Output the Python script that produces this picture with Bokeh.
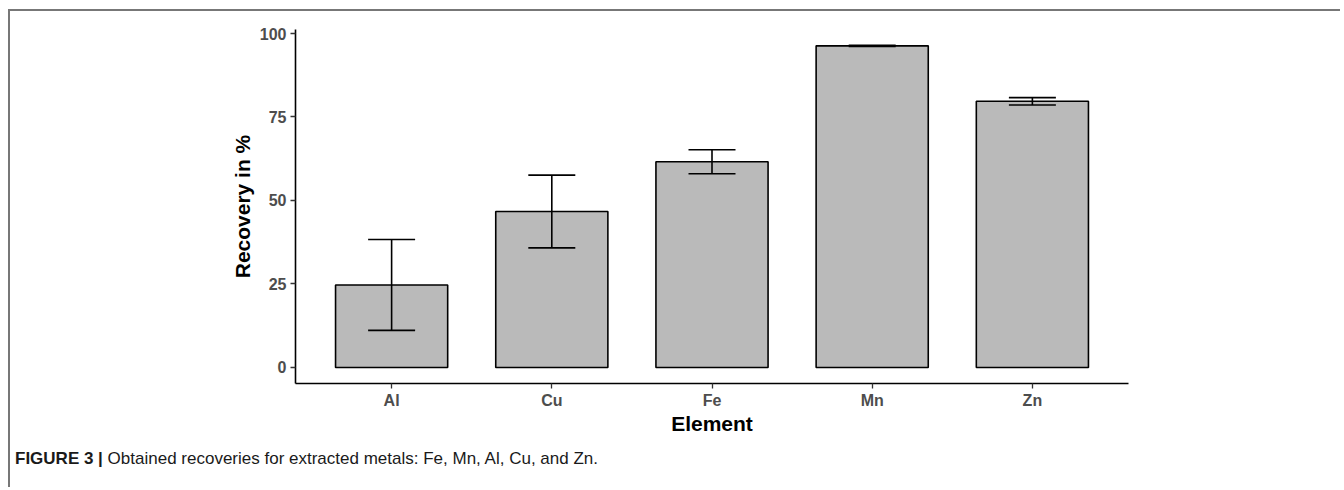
from bokeh.plotting import figure
from bokeh.models import (ColumnDataSource, Range1d, FixedTicker, Whisker, TeeHead, Div)
from bokeh.layouts import column
from bokeh.embed import file_html
from bokeh.resources import INLINE

# ---- data ----
elements = ["Al", "Cu", "Fe", "Mn", "Zn"]
positions = [1, 2, 3, 4, 5]
recovery_mean = [24.7, 46.7, 61.6, 96.3, 79.7]
recovery_sd = [13.6, 10.9, 3.6, 0.2, 1.1]
y_ticks = [0, 25, 50, 75, 100]
caption_bold = "FIGURE 3 |"
caption_text = "Obtained recoveries for extracted metals: Fe, Mn, Al, Cu, and Zn."

upper = [m + s for m, s in zip(recovery_mean, recovery_sd)]
lower = [m - s for m, s in zip(recovery_mean, recovery_sd)]
src = ColumnDataSource(dict(x=positions, top=recovery_mean, upper=upper, lower=lower))

FONT = "Liberation Sans"

p = figure(width=1326, height=428, output_backend="svg", toolbar_location=None,
           x_range=Range1d(0.4, 5.6), y_range=Range1d(-4.8, 101.2),
           min_border_left=285, min_border_right=208, min_border_top=18, min_border_bottom=56)
p.outline_line_color = None
p.xgrid.grid_line_color = None
p.ygrid.grid_line_color = None

p.vbar(x="x", top="top", bottom=0, width=0.7, source=src,
       fill_color="#bababa", line_color="black", line_width=1.6)

w = Whisker(base="x", upper="upper", lower="lower", source=src, level="overlay",
            line_color="black", line_width=1.6,
            upper_head=TeeHead(size=47, line_color="black", line_width=1.6),
            lower_head=TeeHead(size=47, line_color="black", line_width=1.6))
p.add_layout(w)

# axes
for ax in (p.xaxis[0], p.yaxis[0]):
    ax.axis_line_color = "black"
    ax.axis_line_width = 1.6
    ax.major_tick_line_color = "#333333"
    ax.major_tick_line_width = 1.3
    ax.major_tick_out = 5
    ax.major_tick_in = 0
    ax.minor_tick_line_color = None
    ax.major_label_text_font = FONT
    ax.major_label_text_font_style = "bold"
    ax.major_label_text_font_size = "16px"
    ax.major_label_text_color = "#4d4d4d"
    ax.axis_label_text_font = FONT
    ax.axis_label_text_font_style = "bold"
    ax.axis_label_text_font_size = "21px"
    ax.axis_label_text_color = "black"

p.xaxis.ticker = FixedTicker(ticks=positions)
p.xaxis.major_label_overrides = {pos: name for pos, name in zip(positions, elements)}
p.xaxis.axis_label = "Element"
p.xaxis.major_label_standoff = 3
p.xaxis.axis_label_standoff = 0

p.yaxis.ticker = FixedTicker(ticks=y_ticks)
p.yaxis.axis_label = "Recovery in %"
p.yaxis.major_label_standoff = 4
p.yaxis.axis_label_standoff = 3

caption_html = (f'<span style="font-family: \'{FONT}\'; font-size: 17px; color: #1a1a1a; '
                f'line-height: 20px; white-space: nowrap;">'
                f'<b>{caption_bold}</b> {caption_text}</span>')
caption = Div(text=caption_html, width=1320, height=38,
              styles={"font-family": FONT, "font-size": "17px", "color": "#1a1a1a",
                      "padding-top": "3px"})

layout = column(p, caption, spacing=0)
layout.styles = {"border-top": "2px solid #777777", "border-left": "2px solid #777777",
                 "margin-left": "8px", "margin-top": "9px"}

open("out.html", "w").write(file_html(layout, INLINE))
